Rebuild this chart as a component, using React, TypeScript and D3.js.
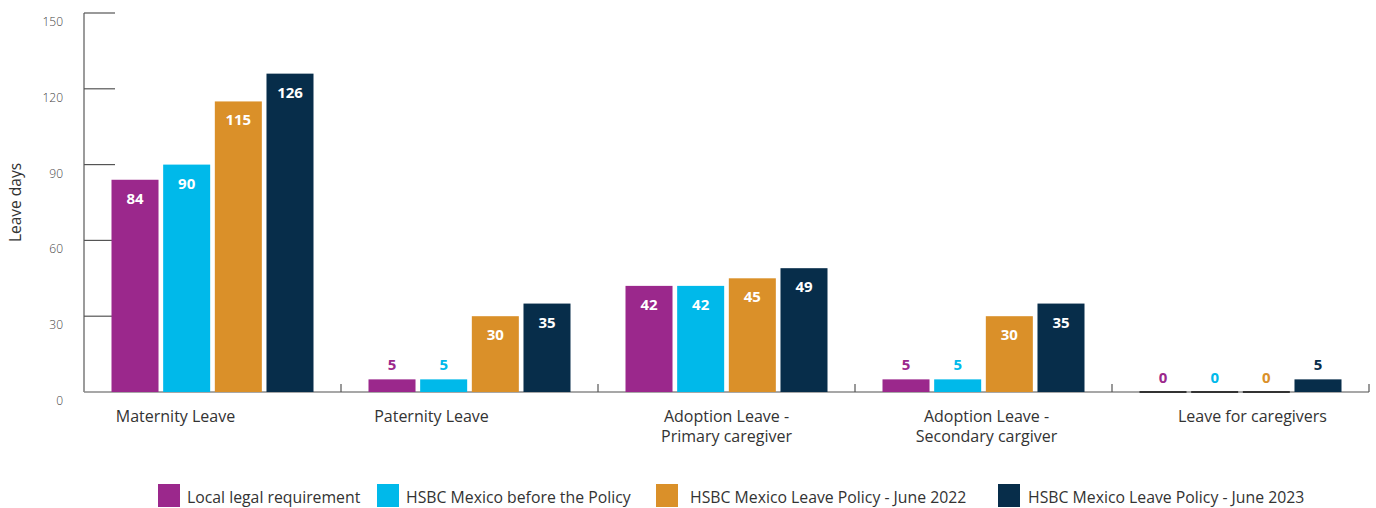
import React, { useEffect } from "react";
import * as d3 from "d3";

const categories = [
  ["Maternity Leave"],
  ["Paternity Leave"],
  ["Adoption Leave -", "Primary caregiver"],
  ["Adoption Leave -", "Secondary cargiver"],
  ["Leave for caregivers"],
];
const seriesNames = [
  "Local legal requirement",
  "HSBC Mexico before the Policy",
  "HSBC Mexico Leave Policy - June 2022",
  "HSBC Mexico Leave Policy - June 2023",
];
const localLegal = [84, 5, 42, 5, 0];
const beforePolicy = [90, 5, 42, 5, 0];
const policy2022 = [115, 30, 45, 30, 0];
const policy2023 = [126, 35, 49, 35, 5];
const yTicks = [0, 30, 60, 90, 120, 150];

// layout / style (not data)
const W = 1376;
const H = 508;
const colors = ["#9B288C", "#00B9EA", "#DA9029", "#072D4A"];
const labelShift = [-37, -38, 0, 3, 12];
const legendX = [158, 377, 656, 998];
const legendTextGap = [29, 29, 34, 30];
const FONT = "'Open Sans', 'Noto Sans', sans-serif";

export default function App() {
  useEffect(() => {
    document.body.style.margin = "0";
  }, []);

  const series = [localLegal, beforePolicy, policy2022, policy2023];
  const x0 = d3
    .scaleBand<number>()
    .domain(d3.range(categories.length))
    .range([84, 1369])
    .padding(0);
  const x1 = d3
    .scaleBand<number>()
    .domain(d3.range(series.length))
    .range([27.5, 229.5])
    .paddingInner(0.09)
    .paddingOuter(0);
  const y = d3.scaleLinear().domain([0, 150]).range([392, 13]);

  const boundaries = [...categories.map((_, i) => x0(i)!), x0.range()[1]];

  return (
    <svg width={W} height={H} style={{ display: "block", fontFamily: FONT }}>
      {/* y axis */}
      <line x1={84} x2={84} y1={y(150)} y2={y(0)} stroke="#7a7a7a" strokeWidth={1.5} />
      {yTicks.map((t) => (
        <g key={t}>
          {t > 0 && (
            <line x1={84} x2={115} y1={y(t)} y2={y(t)} stroke="#555" strokeWidth={1.2} />
          )}
          <text
            x={63}
            y={y(t) + 13}
            textAnchor="end"
            fontSize={12}
            fill="#444"
            fontWeight={300}
          >
            {t}
          </text>
        </g>
      ))}
      <text
        transform={`translate(21,${(y(150) + y(0)) / 2}) rotate(-90)`}
        textAnchor="middle"
        fontSize={15.5}
        fill="#333"
      >
        Leave days
      </text>

      {/* x axis */}
      <line x1={84} x2={1369} y1={y(0)} y2={y(0)} stroke="#8a8a8a" strokeWidth={1.5} />
      {boundaries.map((b, i) =>
        i === 0 ? null : (
          <line key={i} x1={b} x2={b} y1={y(0) - 8} y2={y(0)} stroke="#555" strokeWidth={1.2} />
        )
      )}

      {/* bars */}
      {categories.map((cat, ci) => (
        <g key={ci} transform={`translate(${x0(ci)},0)`}>
          {series.map((s, si) => {
            const v = s[ci];
            const bx = x1(si)!;
            const bw = x1.bandwidth();
            const top = y(v);
            const inside = v >= 10;
            return (
              <g key={si}>
                {v > 0 ? (
                  <rect x={bx} y={top} width={bw} height={y(0) - top} fill={colors[si]} />
                ) : (
                  <line x1={bx} x2={bx + bw} y1={y(0)} y2={y(0)} stroke="#333" strokeWidth={2} />
                )}
                <text
                  x={bx + bw / 2}
                  y={inside ? top + 24 : top - 9}
                  textAnchor="middle"
                  fontSize={15}
                  fontWeight={700}
                  fill={inside ? "#fff" : colors[si]}
                >
                  {v}
                </text>
              </g>
            );
          })}
          {cat.map((line, li) => (
            <text
              key={li}
              x={x0.bandwidth() / 2 + labelShift[ci]}
              y={422 + li * 20}
              textAnchor="middle"
              fontSize={16}
              fill="#333"
            >
              {line}
            </text>
          ))}
        </g>
      ))}

      {/* legend */}
      {seriesNames.map((name, i) => (
        <g key={name}>
          <rect x={legendX[i]} y={484} width={22} height={23} fill={colors[i]} />
          <text x={legendX[i] + legendTextGap[i]} y={503} fontSize={15.8} fill="#333">
            {name}
          </text>
        </g>
      ))}
    </svg>
  );
}
